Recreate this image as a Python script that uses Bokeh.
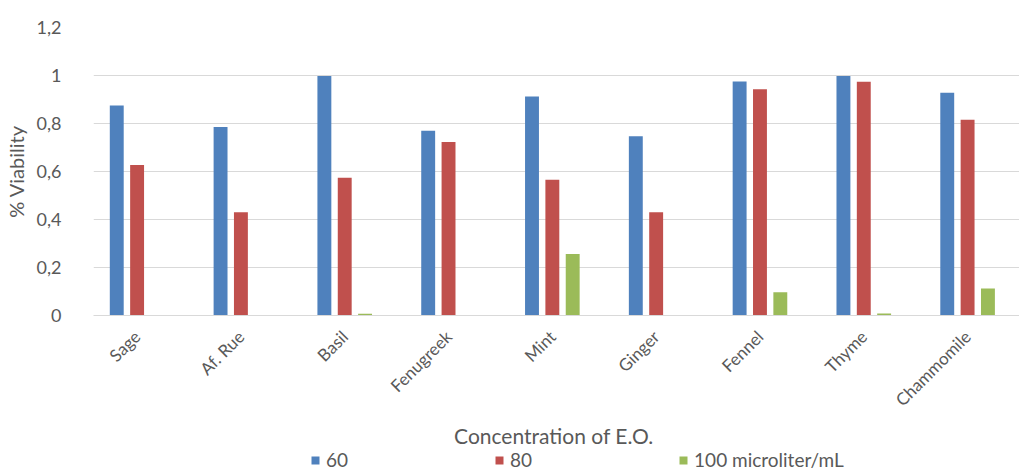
import numpy as np
from bokeh.plotting import figure
from bokeh.layouts import column
from bokeh.models import FixedTicker, Range1d, Legend, LegendItem, ColumnDataSource, Title
from bokeh.embed import file_html
from bokeh.resources import INLINE

categories = ["Sage", "Af. Rue", "Basil", "Fenugreek", "Mint", "Ginger", "Fennel", "Thyme", "Chammomile"]
series_names = ["60", "80", "100 microliter/mL"]
v60 = [0.875, 0.785, 0.998, 0.770, 0.913, 0.747, 0.975, 0.998, 0.928]
v80 = [0.627, 0.430, 0.574, 0.723, 0.566, 0.430, 0.943, 0.974, 0.816]
v100 = [0.0, 0.0, 0.007, 0.0, 0.256, 0.0, 0.097, 0.008, 0.113]
y_ticks = [0, 0.2, 0.4, 0.6, 0.8, 1.0, 1.2]
y_tick_labels = ["0", "0,2", "0,4", "0,6", "0,8", "1", "1,2"]
x_title = "Concentration  of E.O."
y_title = "% Viability"

colors = ["#4F81BD", "#C0504D", "#9BBB59"]
offsets = [-0.196, 0.0, 0.196]
FONT = "Lato"
GRAY = "#595959"

W = 1019
LEG_H = 26
p = figure(width=W, height=473 - LEG_H, output_backend="svg", toolbar_location=None,
           x_range=Range1d(-0.42, 8.5), y_range=Range1d(0, 1.2),
           min_border_left=88, min_border_right=0, min_border_top=27,
           min_border_bottom=0)
p.outline_line_color = None

xs = np.arange(len(categories))
for vals, c, off in zip([v60, v80, v100], colors, offsets):
    src = ColumnDataSource(dict(x=xs + off, top=vals))
    p.vbar(x="x", top="top", bottom=0, width=0.134, source=src,
           fill_color=c, line_color=None)

# axes
p.xaxis.ticker = FixedTicker(ticks=list(xs))
p.xaxis.major_label_overrides = {int(i): n for i, n in zip(xs, categories)}
p.xaxis.major_label_orientation = np.pi / 4
p.yaxis.ticker = FixedTicker(ticks=y_ticks)
p.yaxis.major_label_overrides = {t: l for t, l in zip(y_ticks, y_tick_labels)}
p.yaxis.axis_label = y_title

for ax in (p.xaxis[0], p.yaxis[0]):
    ax.major_tick_line_color = None
    ax.minor_tick_line_color = None
    ax.major_label_text_font = FONT
    ax.major_label_text_font_size = "18px"
    ax.major_label_text_color = GRAY
    ax.axis_label_text_font = FONT
    ax.axis_label_text_font_size = "20px"
    ax.axis_label_text_color = GRAY
    ax.axis_label_text_font_style = "normal"
p.xaxis.major_label_text_font_size = "17px"
p.xaxis.axis_line_color = "#D9D9D9"
p.yaxis.axis_line_color = None
p.yaxis.major_label_standoff = 26
p.yaxis.axis_label_standoff = 6
p.xaxis.major_label_standoff = 12

p.xgrid.grid_line_color = None
p.ygrid.grid_line_color = "#D9D9D9"
p.ygrid.ticker = FixedTicker(ticks=y_ticks)

# x-axis title
xt = Title(text=x_title, align="center", offset=5, standoff=0,
           text_font=FONT, text_font_size="21px", text_color=GRAY,
           text_font_style="normal")
p.add_layout(xt, "below")

# legend strip (separate small figure below the chart, frames aligned)
lf = figure(width=W, height=LEG_H, output_backend="svg", toolbar_location=None,
            x_range=Range1d(0, 1), y_range=Range1d(0, 1),
            x_axis_type=None, y_axis_type=None,
            min_border_left=0, min_border_right=0, min_border_top=0, min_border_bottom=0)
lf.outline_line_color = None
lf.xgrid.visible = False
lf.ygrid.visible = False
leg_renderers = []
for c in colors:
    # one off-range key swatch per series (not visible in the strip's frame)
    leg_renderers.append(lf.vbar(x=[5], top=[1], width=0.1, fill_color=c, line_color=None))
legend = Legend(items=[LegendItem(label=n, renderers=[r]) for n, r in zip(series_names, leg_renderers)],
                orientation="horizontal", location=(217, 2), spacing=146,
                label_text_font=FONT, label_text_font_size="19px", label_text_color=GRAY,
                glyph_width=10, glyph_height=10, label_standoff=6, label_height=22,
                border_line_color=None, background_fill_alpha=0, margin=0, padding=0)
lf.add_layout(legend, "center")

layout = column(p, lf, spacing=0)
open("out.html", "w").write(file_html(layout, INLINE))
